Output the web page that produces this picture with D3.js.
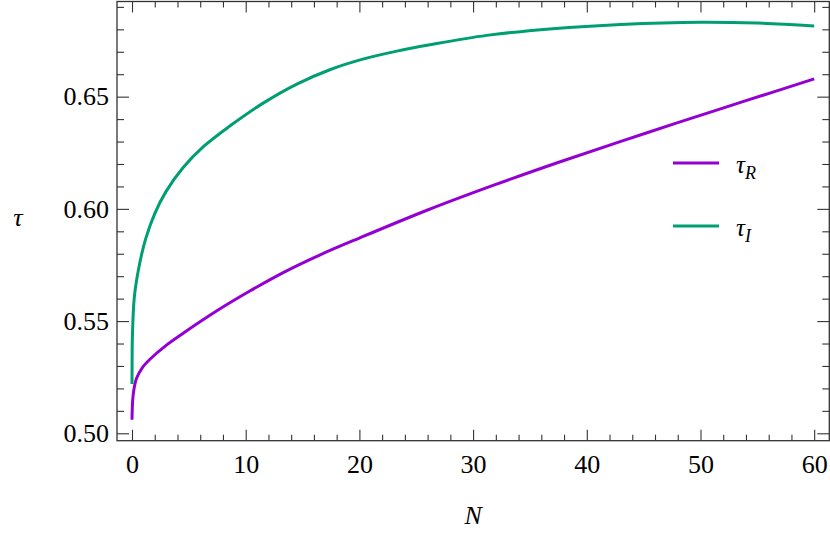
<!DOCTYPE html>
<html>
<head>
<meta charset="utf-8">
<script src="https://cdn.jsdelivr.net/npm/d3@7"></script>
</head>
<body style="margin:0">
<div id="graph"></div>
<script>
// values
var nR   = [0, 0.05, 0.15, 0.4, 0.9, 1.6, 3, 4.5, 7.5, 10.4, 13.3, 16.5, 20, 26, 32,
            37.6, 43, 48, 54, 60]
var tauR = [0.506, 0.514, 0.519, 0.5245, 0.5292, 0.5331, 0.5392, 0.5446, 0.5547,
            0.5635, 0.5716, 0.5794, 0.5870, 0.5995, 0.6109, 0.6209, 0.6301, 0.6384,
            0.6482, 0.6579]

var nI   = [0, 0.01, 0.03, 0.2, 0.6, 1.2, 2, 3, 4.5, 6.3, 8.6, 11.5, 14.5, 17.4,
            20.3, 23.3, 26.2, 31.2, 37, 43, 50, 55, 60]
var tauI = [0.522, 0.533, 0.542, 0.5605, 0.5738, 0.5866, 0.5979, 0.6078, 0.6184,
            0.6278, 0.6369, 0.6470, 0.6556, 0.6620, 0.6667, 0.6703, 0.6731, 0.6773,
            0.6803, 0.6822, 0.6832, 0.6828, 0.6815]

var xMajor = [0, 10, 20, 30, 40, 50, 60]
var yMajor = [0.50, 0.55, 0.60, 0.65]
var seriesNames = ["R", "I"]
var seriesColors = ["#9400d3", "#009e73"]

/*
    Dimensions
*/
var W = 830, H = 542
var margin = {top: 1.5, right: 0.7, bottom: 101.3, left: 117},
    width = W - margin.left - margin.right,
    height = H - margin.top - margin.bottom

var FONT = "Liberation Serif"

var root = d3.select("#graph").append("svg")
            .attr("width", W)
            .attr("height", H)
            .style("font-family", "'" + FONT + "'")
var svg = root.append("g")
            .attr("transform", "translate(" + margin.left + "," + margin.top + ")")

var x = d3.scaleLinear().domain([-1.32, 61.33]).range([0, width]),
    y = d3.scaleLinear().domain([0.4967, 0.6924]).range([height, 0])

var xMinor = d3.range(0, 61, 2).filter(function(d) { return d % 10 !== 0 })
var yMinor = d3.range(50, 70).map(function(d) { return d / 100 })
                .filter(function(d) { return Math.round(d * 100) % 5 !== 0 })

var axisColor = "#333"

function styleAxis(g) {
    g.attr("font-family", null).attr("font-size", null)
    g.select(".domain").remove()
    g.selectAll("line").attr("stroke", axisColor).attr("stroke-width", 1.1)
    g.selectAll("text").attr("fill", "#000")
     .style("font-family", "'" + FONT + "'").style("font-size", "26px")
}

function label(sel, size, italic) {
    return sel.style("font-family", "'" + FONT + "'")
              .style("font-size", size + "px")
              .style("font-style", italic ? "italic" : "normal")
}

// bottom
svg.append("g").attr("transform", "translate(0," + height + ")")
   .call(d3.axisBottom(x).tickValues(xMajor).tickSize(-11).tickPadding(14)
           .tickFormat(d3.format("d")))
   .call(styleAxis)
svg.append("g").attr("transform", "translate(0," + height + ")")
   .call(d3.axisBottom(x).tickValues(xMinor).tickSize(-6).tickFormat(""))
   .call(styleAxis)
// top
svg.append("g")
   .call(d3.axisTop(x).tickValues(xMajor).tickSize(-11).tickFormat(""))
   .call(styleAxis)
svg.append("g")
   .call(d3.axisTop(x).tickValues(xMinor).tickSize(-6).tickFormat(""))
   .call(styleAxis)
// left
svg.append("g")
   .call(d3.axisLeft(y).tickValues(yMajor).tickSize(-12).tickPadding(8)
           .tickFormat(d3.format(".2f")))
   .call(styleAxis)
svg.append("g")
   .call(d3.axisLeft(y).tickValues(yMinor).tickSize(-7).tickFormat(""))
   .call(styleAxis)
// right
svg.append("g").attr("transform", "translate(" + width + ",0)")
   .call(d3.axisRight(y).tickValues(yMajor).tickSize(-12).tickFormat(""))
   .call(styleAxis)
svg.append("g").attr("transform", "translate(" + width + ",0)")
   .call(d3.axisRight(y).tickValues(yMinor).tickSize(-7).tickFormat(""))
   .call(styleAxis)

// frame
svg.append("rect")
   .attr("width", width).attr("height", height)
   .attr("fill", "none").attr("stroke", axisColor).attr("stroke-width", 1.3)

// curves
var line = d3.line()
             .x(function(d) { return x(d[0]) })
             .y(function(d) { return y(d[1]) })
             .curve(d3.curveCatmullRom.alpha(0.5))

var series = [d3.zip(nR, tauR), d3.zip(nI, tauI)]
series.forEach(function(pts, i) {
    svg.append("path")
       .datum(pts)
       .attr("fill", "none")
       .attr("stroke", seriesColors[i])
       .attr("stroke-width", 3)
       .attr("d", line)
})

// legend
var legY = [161.5, 224.5]
seriesNames.forEach(function(name, i) {
    var g = svg.append("g").attr("transform", "translate(556," + legY[i] + ")")
    g.append("line").attr("x1", 0).attr("x2", 46)
     .attr("stroke", seriesColors[i]).attr("stroke-width", 3)
    var t = g.append("text").attr("x", 63).attr("y", 10).call(label, 25, true)
    t.append("tspan").text("τ")
    t.append("tspan").attr("dy", 6).style("font-size", "18px").text(name)
})

// axis titles
svg.append("text")
   .attr("x", x(30)).attr("y", height + 83)
   .attr("text-anchor", "middle")
   .call(label, 26, true)
   .text("N")

svg.append("text")
   .attr("x", -99).attr("y", (height / 2) + 5)
   .attr("text-anchor", "middle")
   .call(label, 26, true)
   .text("τ")
</script>
</body>
</html>
